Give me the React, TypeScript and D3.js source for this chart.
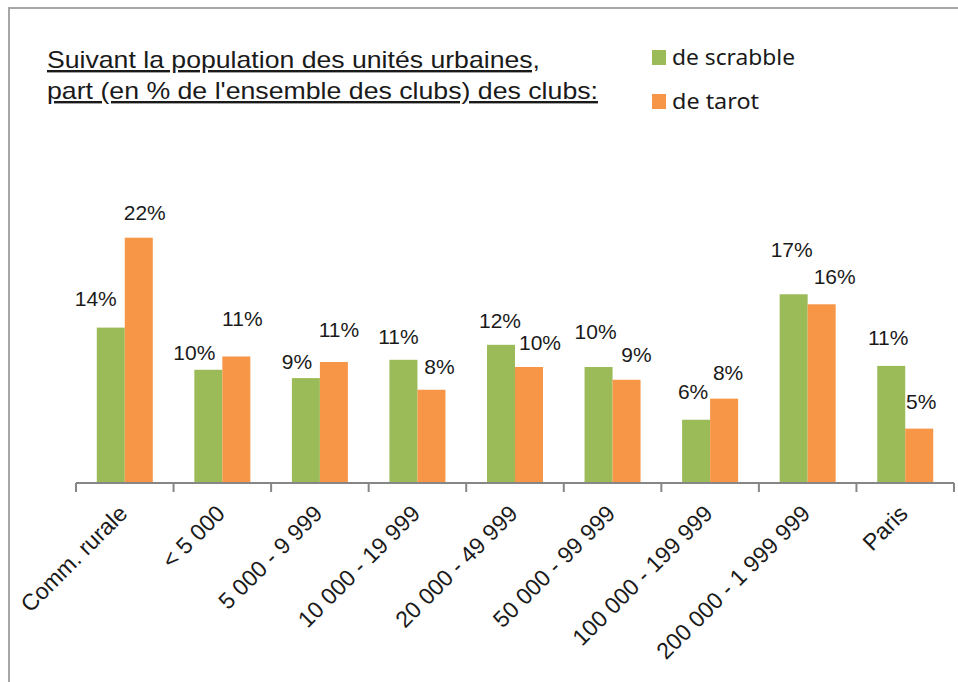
import * as d3 from "d3";

const categories = [
  "Comm. rurale",
  "< 5 000",
  "5 000 - 9 999",
  "10 000 - 19 999",
  "20 000 - 49 999",
  "50 000 - 99 999",
  "100 000 - 199 999",
  "200 000 - 1 999 999",
  "Paris",
];
const scrabble = [14.0, 10.2, 9.45, 11.1, 12.45, 10.45, 5.7, 17.0, 10.55];
const tarot = [22.1, 11.4, 10.9, 8.4, 10.45, 9.3, 7.6, 16.1, 4.9];
const seriesNames = ["de scrabble", "de tarot"];
const colors = ["#9bbb59", "#f79646"];

// hand-placed label nudges (dx, dy from bar top), as in the original workbook
const labelNudgeScrabble = [
  [-15, -29], [-14, -17], [-9, -16], [-5, -23], [-1, -24], [-3, -35], [-3, -28], [-2, -45], [-3, -28],
];
const labelNudgeTarot = [
  [6, -25], [6, -38], [5, -32], [8, -23], [11, -24], [10, -25], [4, -26], [13, -28], [2, -27],
];

const W = 958;
const H = 682;
const AXIS_Y = 483;
const X0 = 76;
const X1 = 954;

export default function App() {
  const x = d3.scaleBand<string>().domain(categories).range([X0, X1]).padding(0);
  const bw = x.bandwidth();
  const barW = bw * 0.287;
  const y = d3.scaleLinear().domain([0, 25]).range([AXIS_Y, AXIS_Y - 25 * 11.1]);

  const series = [scrabble, tarot];
  const nudges = [labelNudgeScrabble, labelNudgeTarot];
  const font = "'Liberation Sans', Arial, sans-serif";

  return (
    <svg
      width={W}
      height={H}
      style={{ position: "absolute", left: 0, top: 0, background: "#fff" }}
    >
      <rect x={9} y={8} width={W + 20} height={H + 20} fill="#fff" stroke="#a6a6a6" strokeWidth={2} />

      <g fontFamily={font} fontSize={24} fill="#1a1a1a" textDecoration="underline">
        <text x={47} y={68} textLength={493} lengthAdjust="spacingAndGlyphs">
          Suivant la population des unités urbaines,
        </text>
        <text x={47} y={99} textLength={551} lengthAdjust="spacingAndGlyphs">
          part (en % de l'ensemble des clubs) des clubs:
        </text>
      </g>

      {seriesNames.map((name, k) => (
        <g key={name}>
          <rect x={652} y={50 + k * 44} width={14} height={15} fill={colors[k]} />
          <text
            x={672}
            y={65 + k * 44}
            fontFamily="'Noto Sans', sans-serif"
            fontSize={21}
            fill="#1a1a1a"
            textLength={k === 0 ? 123 : 87}
            lengthAdjust="spacingAndGlyphs"
          >
            {name}
          </text>
        </g>
      ))}

      {series.map((vals, k) =>
        vals.map((v, i) => {
          const cx = (x(categories[i]) ?? 0) + bw / 2;
          const bx = cx - barW + k * barW;
          const top = y(v);
          return (
            <g key={`${k}-${i}`}>
              <rect x={bx} y={top} width={barW} height={AXIS_Y - top} fill={colors[k]} />
              <text
                x={bx + barW / 2 + nudges[k][i][0]}
                y={top + nudges[k][i][1]}
                dy="0.35em"
                textAnchor="middle"
                fontFamily={font}
                fontSize={21}
                fill="#1a1a1a"
              >
                {Math.round(v)}%
              </text>
            </g>
          );
        })
      )}

      <line x1={X0} x2={X1} y1={AXIS_Y} y2={AXIS_Y} stroke="#868686" strokeWidth={2} />
      {d3.range(categories.length + 1).map((i) => {
        const tx = X0 + i * bw;
        return <line key={i} x1={tx} x2={tx} y1={AXIS_Y} y2={AXIS_Y + 9} stroke="#868686" strokeWidth={2} />;
      })}

      {categories.map((c) => {
        const cx = (x(c) ?? 0) + bw / 2;
        const ax = cx + 4;
        const ay = AXIS_Y + 32;
        return (
          <text
            key={c}
            x={ax}
            y={ay}
            textAnchor="end"
            transform={`rotate(-45 ${ax} ${ay})`}
            fontFamily={font}
            fontSize={23}
            fill="#1a1a1a"
          >
            {c}
          </text>
        );
      })}
    </svg>
  );
}
